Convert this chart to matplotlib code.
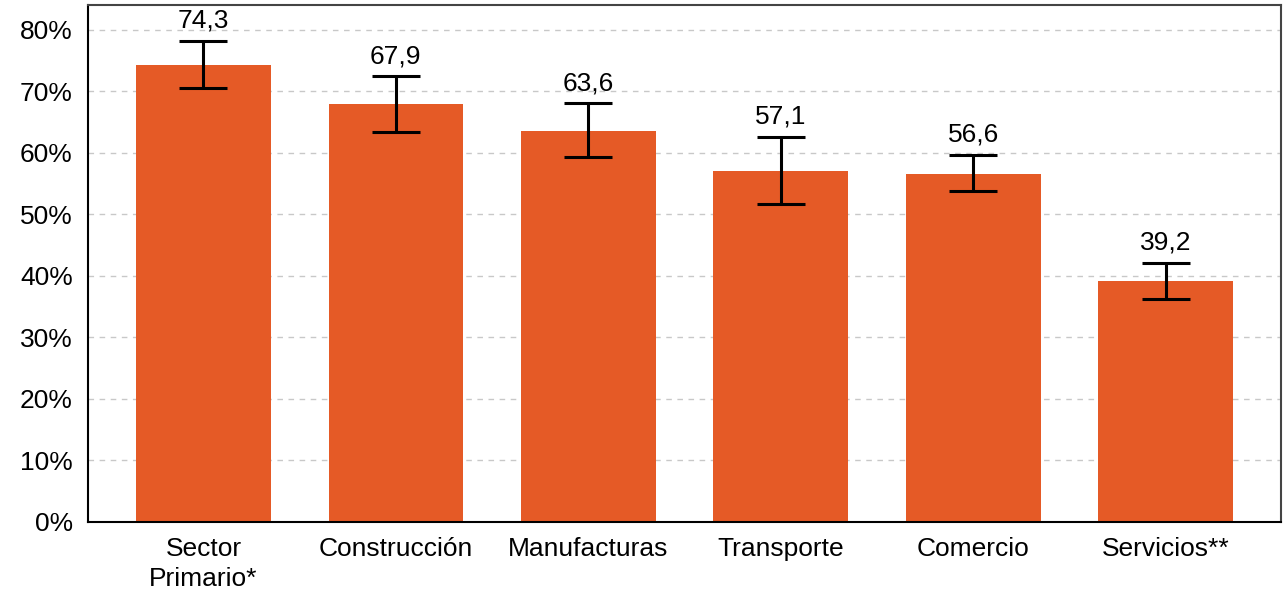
import matplotlib.pyplot as plt
from matplotlib.ticker import FuncFormatter

categories = ["Sector\nPrimario*", "Construcción", "Manufacturas", "Transporte", "Comercio", "Servicios**"]
values = [74.3, 67.9, 63.6, 57.1, 56.6, 39.2]
upper = [78.2, 72.4, 68.0, 62.6, 59.6, 42.1]
lower = [70.5, 63.4, 59.3, 51.7, 53.8, 36.3]
value_labels = ["74,3", "67,9", "63,6", "57,1", "56,6", "39,2"]

plt.rcParams['font.family'] = ['Liberation Sans', 'DejaVu Sans']

fig = plt.figure(figsize=(12.88, 5.91), dpi=100)
ax = fig.add_axes([0.0683, 0.1168, 0.9263, 0.8747])

x = list(range(len(categories)))
err = [[v - lo for v, lo in zip(values, lower)], [hi - v for v, hi in zip(values, upper)]]
ax.bar(x, values, width=0.7, color="#E55A26", zorder=2)
ax.errorbar(x, values, yerr=err, fmt="none", ecolor="black", elinewidth=2.2,
            capsize=17, capthick=2.2, zorder=3)

for xi, hi, lab in zip(x, upper, value_labels):
    ax.annotate(lab, (xi, hi), xytext=(0, 6), textcoords="offset points",
                ha="center", va="bottom", fontsize=19)

ax.set_xlim(-0.6, 5.6)
ax.set_ylim(0, 84)
ax.set_yticks(range(0, 81, 10))
ax.yaxis.set_major_formatter(FuncFormatter(lambda v, p: f"{v:.0f}%"))
ax.set_xticks(x)
ax.set_xticklabels(categories, linespacing=1.3)
ax.tick_params(axis="both", length=0, labelsize=19)
ax.tick_params(axis="y", pad=11)
ax.tick_params(axis="x", pad=11)
ax.grid(axis="y", linestyle=(0, (4, 4)), color="#c8c8c8", linewidth=1, zorder=0)
ax.set_axisbelow(True)
for side in ["left", "bottom"]:
    ax.spines[side].set_color("black")
    ax.spines[side].set_linewidth(1.5)
for side in ["top", "right"]:
    ax.spines[side].set_color("#444444")
    ax.spines[side].set_linewidth(1.5)

fig.savefig("out.png", dpi=100)
